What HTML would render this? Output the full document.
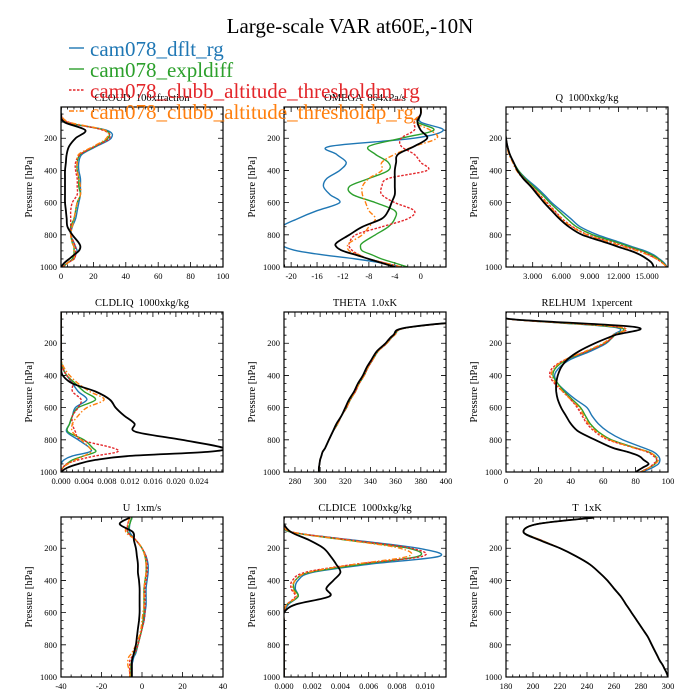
<!DOCTYPE html>
<html><head><meta charset="utf-8"><style>
html,body{margin:0;padding:0;background:#fff}
svg{display:block;font-family:"Liberation Serif",serif}
text{white-space:pre}
</style></head><body>
<svg id="chart" width="700" height="700" viewBox="0 0 700 700" xmlns="http://www.w3.org/2000/svg">
<text x="350" y="33" text-anchor="middle" font-size="21">Large-scale VAR at60E,-10N</text>
<g id="panels"></g>
<g id="legend"></g>
</svg>
<script>
const levels = [10,50,100,150,200,250,300,350,400,450,500,550,600,650,700,750,800,850,875,900,925,950,975,1000];
const seriesNames = ["cam078_dflt_rg","cam078_expldiff","cam078_clubb_altitude_thresholdm_rg","cam078_clubb_altitude_thresholdp_rg"];

const cloudBlue  = [0,0,2,28,31,22,13,11,11,12,12,12,11,10,9,7,6,8,9,10,9,8,4,1];
const cloudGreen = [0,0,3,27,29,21,12,10,10,11,11,12,10,9,8,6,6,7,8,8,8,7,4,1];
const cloudRed   = [0,0,4,26,30,21,12,9,9,10,10,10,7,6,6,6,6,8,9,9,9,8,4,1];
const cloudOrange= [0,0,5,27,28,20,11,10,10,11,12,12,10,9,8,7,6,7,8,8,8,8,4,1];
const cloudObs   = [0,0,2,15,9,5,3.5,3,2.5,2.5,2.5,2.5,2.5,3,3.5,4,7,11,12,11,8,5,2,0];

const omegaBlue  = [0,0,0,3.5,-1,-14,-13,-11.5,-12.5,-14.5,-15,-14,-12.5,-16,-19,-21.5,-21.5,-21.5,-21,-19,-15,-10,-6,-3];
const omegaGreen = [0,0,-0.5,2,-3,-8,-7,-5,-5,-8,-11,-10.5,-7,-4,-4,-5,-7,-9,-9.3,-9,-7.5,-6,-4,-2];
const omegaRed   = [0,0,-1,-1,-3,-3,-1,0,1,-5,-6,-6,-4,-1,-2,-6,-10,-11,-11,-10.5,-9.5,-8,-5.5,-3];
const omegaOrange= [0,0,-1,1.5,2.5,-1,-4,-6,-6,-8,-9,-9,-8.5,-8,-7,-8,-9,-11,-11.3,-11,-9.5,-8,-5.5,-3];
const omegaObs   = [0,0,-0.5,0,1,-1,-3.5,-3.8,-4,-4,-4,-4,-4.5,-5,-6,-9,-11,-13,-13,-12,-10,-8,-6,-4];

const qBlue  = [0,0,0.05,0.1,0.2,0.35,0.6,1.0,1.5,2.3,3.3,4.2,5.0,6.0,7.0,8.0,9.8,12.3,13.5,14.8,15.7,16.3,16.8,17.1];
const qGreen = [0,0,0.05,0.1,0.2,0.35,0.6,1.0,1.5,2.2,3.1,4.0,4.8,5.7,6.6,7.6,9.3,12.0,13.2,14.5,15.5,16.2,16.7,17.1];
const qRed   = [0,0,0.05,0.1,0.2,0.35,0.6,1.0,1.4,2.1,2.9,3.7,4.5,5.3,6.1,7.2,8.8,11.5,12.8,14.2,15.2,16.0,16.6,17.1];
const qOrange= [0,0,0.05,0.1,0.2,0.3,0.5,0.9,1.3,2.0,2.9,3.7,4.4,5.2,6.0,7.1,8.7,11.3,12.6,14.0,15.1,16.0,16.6,17.1];
const qObs   = [0,0,0.05,0.1,0.2,0.35,0.6,1.0,1.4,2.0,2.8,3.5,4.2,5.0,5.8,6.8,8.2,10.8,12.0,13.3,14.3,15.0,15.5,15.7];

const liqBlue  = [0,0,0,0,0,0,0,0.0002,0.001,0.002,0.003,0.0045,0.0025,0.002,0.0015,0.001,0.003,0.005,0.005,0.002,0.0005,0,0,0];
const liqGreen = [0,0,0,0,0,0,0,0.0003,0.001,0.0025,0.004,0.006,0.003,0.002,0.0015,0.0012,0.004,0.0055,0.006,0.004,0.002,0.001,0.0003,0];
const liqRed   = [0,0,0,0,0,0,0,0.0002,0.001,0.002,0.002,0.0035,0.003,0.002,0.002,0.0025,0.0035,0.009,0.0098,0.006,0.003,0.001,0.0003,0];
const liqOrange= [0,0,0,0,0,0,0,0.0005,0.0015,0.003,0.005,0.0075,0.0045,0.003,0.002,0.002,0.0035,0.005,0.0052,0.004,0.0025,0.0012,0.0003,0];
const liqObs   = [0,0,0,0,0,0,0,0,0.0003,0.002,0.006,0.0085,0.0095,0.011,0.0128,0.013,0.021,0.0282,0.0255,0.012,0.006,0.003,0.001,0];

const thetaModel = [600,450,372,359,353,346,342,338,335,331,328,324,321,317,314,310,307,304,302,301,300,299.5,299,299];
const thetaObs   = [600,450,371,358,352,345,341,337,334,330,327,323,320,317,313,310,307,304,302,301,300,299.5,299,299];

const rhBlue  = [0,2,66,66,62,52,40,33,30,32,37,43,50,53,57,63,72,85,91,94,95,94,90,84];
const rhGreen = [0,2,68,67,61,50,38,31,29,32,36,41,46,49,52,57,65,80,88,92,93,92,88,83];
const rhRed   = [0,2,70,67,61,50,37,29,27,30,35,40,44,47,50,55,63,79,87,91,93,91,88,83];
const rhOrange= [0,2,70,66,60,49,37,30,28,31,35,40,45,48,51,56,64,79,88,92,94,92,88,83];
const rhObs   = [0,3,80,67,55,45,38,34,32,31,31,32,34,37,40,45,55,66,75,82,85,88,84,80];

const uBlue  = [-5,-6,-6,-3,0,2,3,3,2.5,2,2,2,1.5,1,0,-1,-2,-3,-4,-4.5,-5,-5,-5,-5];
const uGreen = [-5,-6,-7,-3,0,1.5,2,2,1.5,1,1,1,1,0.5,0,-1,-2,-3.5,-4.5,-5,-5.5,-5.5,-5.5,-5.5];
const uRed   = [-6,-7,-7,-3,0,2,2.5,2.5,2,1.5,1.5,1.5,1.5,1,0,-1,-2,-3.5,-5,-6,-6,-6,-6,-6];
const uOrange= [-6,-7,-8,-3,0,1.5,2,2,1.5,1,1,1,0.5,0,-0.5,-1.5,-3,-5,-6.5,-7,-7,-6.5,-6,-6];
const uObs   = [-6,-11,-4.5,-4,-3,-2.5,-2,-2,-1.5,-1.2,-1.2,-1.2,-1.2,-1.5,-2,-2.5,-3,-4,-4.5,-5,-5,-5,-5,-5];

const iceBlue  = [0,0,0.0005,0.005,0.0095,0.011,0.006,0.002,0.001,0.0008,0.001,0.0003,0,0,0,0,0,0,0,0,0,0,0,0];
const iceGreen = [0,0,0.0005,0.0045,0.0088,0.0095,0.0055,0.0018,0.0008,0.0007,0.001,0.0002,0,0,0,0,0,0,0,0,0,0,0,0];
const iceRed   = [0,0,0.0006,0.0048,0.009,0.0098,0.005,0.0015,0.0006,0.0005,0.0008,0.0002,0,0,0,0,0,0,0,0,0,0,0,0];
const iceOrange= [0,0,0.0006,0.0045,0.0082,0.0088,0.005,0.0017,0.0008,0.0006,0.0009,0.0002,0,0,0,0,0,0,0,0,0,0,0,0];
const iceObs   = [0,0,0.0005,0.0018,0.0028,0.0033,0.0037,0.004,0.0035,0.003,0.0032,0.0008,0,0,0,0,0,0,0,0,0,0,0,0];

const tModel = [245,203,193,206,220,232,242,249,255,260,265,269,273,277,281,285,288,291,292.5,294,296,297.5,299,300];
const tObs   = [245,203,193,205,220,232,242,249,255,260,265,269,273,277,281,285,288,291,292.5,294,296,297.5,299,300];

const cloudTicks=[0,20,40,60,80,100], omegaTicks=[-20,-16,-12,-8,-4,0], qTicks=[3,6,9,12,15];
const liqTicks=[0,0.004,0.008,0.012,0.016,0.020,0.024], thetaTicks=[280,300,320,340,360,380,400];
const rhTicks=[0,20,40,60,80,100], uTicks=[-40,-20,0,20,40], iceTicks=[0,0.002,0.004,0.006,0.008,0.010], tTicks=[180,200,220,240,260,280,300];
const yTicks=[200,400,600,800,1000];

const colors=["#1f77b4","#2ca02c","#e3262a","#ff7f0e"];
const dashes=[null,null,"2.5,1.5","5,2,1.5,2"];
const NS="http://www.w3.org/2000/svg";
const root=document.getElementById('panels');
function mk(tag,attrs,parent){const e=document.createElementNS(NS,tag);for(const k in attrs)e.setAttribute(k,attrs[k]);(parent||root).appendChild(e);return e;}
function smooth(pts){
 let d=`M${pts[0][0].toFixed(1)},${pts[0][1].toFixed(1)}`;
 for(let i=0;i<pts.length-1;i++){
  const p0=pts[Math.max(i-1,0)],p1=pts[i],p2=pts[i+1],p3=pts[Math.min(i+2,pts.length-1)];
  const c1=[p1[0]+(p2[0]-p0[0])/6,p1[1]+(p2[1]-p0[1])/6];
  const c2=[p2[0]-(p3[0]-p1[0])/6,p2[1]-(p3[1]-p1[1])/6];
  d+=`C${c1[0].toFixed(1)},${c1[1].toFixed(1)} ${c2[0].toFixed(1)},${c2[1].toFixed(1)} ${p2[0].toFixed(1)},${p2[1].toFixed(1)}`;
 }
 return d;
}

const cols=[61,284,506], rows=[107,312,517], W=162, H=160;
const panels=[
 {id:"cloud",title:"CLOUD  100xfraction",c:0,r:0,xmin:0,xmax:100,ticks:cloudTicks,minor:5,dec:0,s:[cloudBlue,cloudGreen,cloudRed,cloudOrange],obs:cloudObs},
 {id:"omega",title:"OMEGA  864xPa/s",c:1,r:0,xmin:-21.1,xmax:3.9,ticks:omegaTicks,minor:4,dec:0,s:[omegaBlue,omegaGreen,omegaRed,omegaOrange],obs:omegaObs},
 {id:"q",title:"Q  1000xkg/kg",c:2,r:0,xmin:0.2,xmax:17.2,ticks:qTicks,minor:3,dec:3,s:[qBlue,qGreen,qRed,qOrange],obs:qObs},
 {id:"cldliq",title:"CLDLIQ  1000xkg/kg",c:0,r:1,xmin:0,xmax:0.0282,ticks:liqTicks,minor:4,dec:3,s:[liqBlue,liqGreen,liqRed,liqOrange],obs:liqObs},
 {id:"theta",title:"THETA  1.0xK",c:1,r:1,xmin:271.3,xmax:400,ticks:thetaTicks,minor:4,dec:0,s:[thetaModel,thetaModel,thetaModel,thetaModel],obs:thetaObs},
 {id:"relhum",title:"RELHUM  1xpercent",c:2,r:1,xmin:0,xmax:100,ticks:rhTicks,minor:4,dec:0,s:[rhBlue,rhGreen,rhRed,rhOrange],obs:rhObs},
 {id:"u",title:"U  1xm/s",c:0,r:2,xmin:-40,xmax:40,ticks:uTicks,minor:4,dec:0,s:[uBlue,uGreen,uRed,uOrange],obs:uObs},
 {id:"cldice",title:"CLDICE  1000xkg/kg",c:1,r:2,xmin:0,xmax:0.01148,ticks:iceTicks,minor:4,dec:3,s:[iceBlue,iceGreen,iceRed,iceOrange],obs:iceObs},
 {id:"t",title:"T  1xK",c:2,r:2,xmin:180,xmax:300,ticks:tTicks,minor:4,dec:0,s:[tModel,tModel,tModel,tModel],obs:tObs}
];
const pTop=6,pBot=1000;
panels.forEach(P=>{
 const x0=cols[P.c], y0=rows[P.r];
 const g=mk('g',{});
 
 
 const sx=v=>x0+(v-P.xmin)/(P.xmax-P.xmin)*W;
 const sy=p=>y0+(p-pTop)/(pBot-pTop)*H;
 const cp=mk('clipPath',{id:'clip-'+P.id},g);
 mk('rect',{x:x0,y:y0,width:W,height:H},cp);
 const t=mk('text',{x:x0+W/2,y:y0-6,'text-anchor':'middle','font-size':10.5},g);
 t.textContent=P.title;
 
 
 const yl=mk('text',{x:0,y:0,transform:`translate(${x0-29},${y0+H/2}) rotate(-90)`,'text-anchor':'middle','font-size':10.5},g);
 yl.textContent="Pressure [hPa]";
 
 
 let tk="";
 for(let p=50;p<=1000;p+=50){const y=sy(p);const L=(p%200===0)?5:2.5;tk+=`M${x0},${y}h${L}M${x0+W},${y}h${-L}`;}
 yTicks.forEach(p=>{const tl=mk('text',{x:x0-4,y:sy(p)+3,'text-anchor':'end','font-size':8.5},g);tl.textContent=p;
   });
 const step=P.ticks[1]-P.ticks[0], ms=step/P.minor;
 const start=P.ticks[0]-Math.floor((P.ticks[0]-P.xmin)/ms)*ms;
 for(let v=start;v<=P.xmax+1e-9;v+=ms){const x=sx(v);const maj=P.ticks.some(q=>Math.abs(q-v)<ms*0.01);const L=maj?5:2.5;tk+=`M${x},${y0+H}v${-L}M${x},${y0}v${L}`;}
 P.ticks.forEach(v=>{const tl=mk('text',{x:sx(v),y:y0+H+12,'text-anchor':'middle','font-size':8.5},g);tl.textContent=v.toFixed(P.dec);
   });
 const ticks=mk('path',{d:tk,stroke:'#000','stroke-width':0.8,fill:'none'},g);
 
 
 const lg=mk('g',{'clip-path':`url(#clip-${P.id})`},g);
 P.s.forEach((arr,i)=>{
   const pts=arr.map((v,k)=>[sx(v),sy(levels[k])]);
   const pl=mk('path',{d:smooth(pts),fill:'none',stroke:colors[i],'stroke-width':1.4,'stroke-linejoin':'round'},lg);
   if(dashes[i])pl.setAttribute('stroke-dasharray',dashes[i]);
   
   
 });
 const ob=mk('path',{d:smooth(P.obs.map((v,k)=>[sx(v),sy(levels[k])])),fill:'none',stroke:'#000','stroke-width':1.8,'stroke-linejoin':'round'},lg);
 
 
 const fr=mk('rect',{x:x0,y:y0,width:W,height:H,fill:'none',stroke:'#000','stroke-width':1.2},g);
 
 
});
const leg=document.getElementById('legend');
seriesNames.forEach((n,i)=>{
 const y=48+i*21;
 const ln=mk('line',{x1:69,x2:84,y1:y,y2:y,stroke:colors[i],'stroke-width':1.4},leg);
 if(dashes[i])ln.setAttribute('stroke-dasharray',dashes[i]);
 
 
 const tx=mk('text',{x:90,y:y+8,'font-size':21,fill:colors[i]},leg);
 tx.textContent=n;
 
 
});
</script>
</body></html>
